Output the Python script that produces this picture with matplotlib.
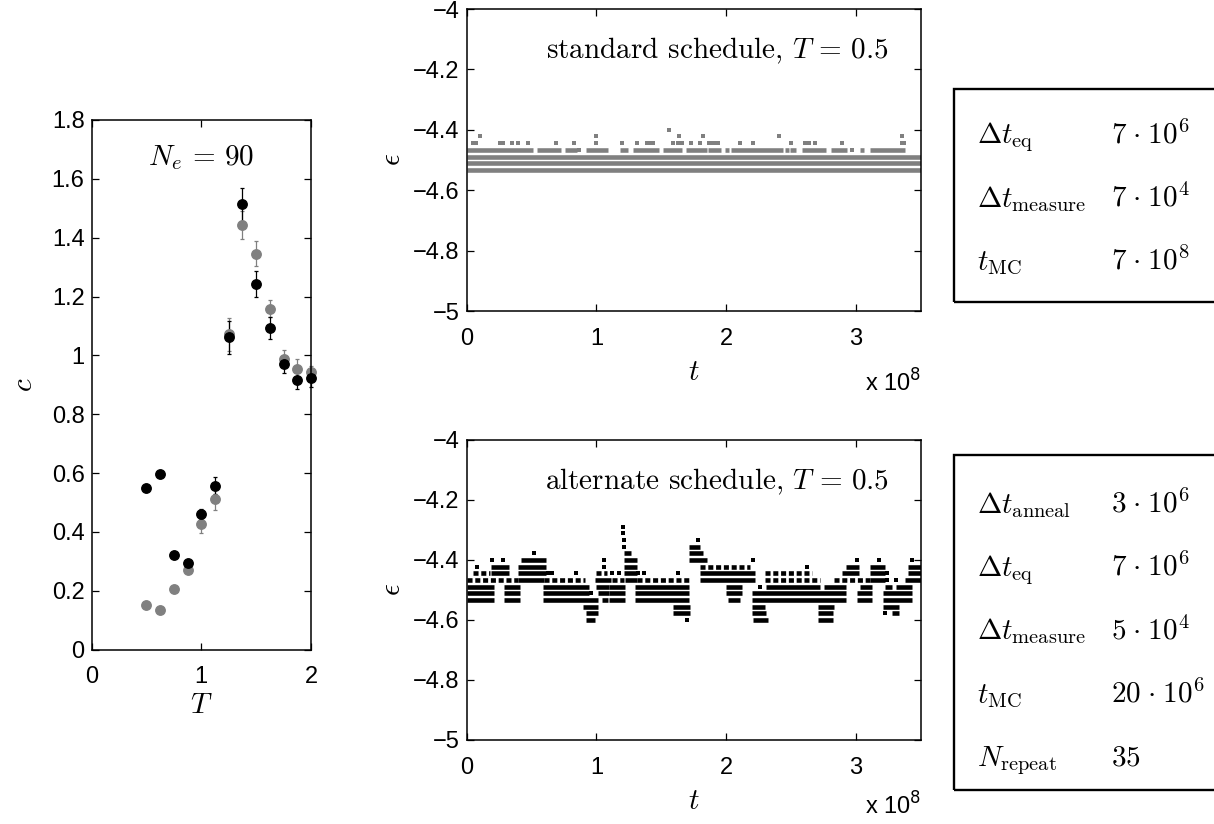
import matplotlib
matplotlib.use('Agg')
import matplotlib.pyplot as plt
from matplotlib.patches import Rectangle

plt.rcParams['font.family'] = ['Liberation Sans', 'DejaVu Sans']
plt.rcParams['mathtext.fontset'] = 'cm'
plt.rcParams['xtick.direction'] = 'in'
plt.rcParams['ytick.direction'] = 'in'
plt.rcParams['xtick.top'] = True
plt.rcParams['ytick.right'] = True
plt.rcParams['axes.linewidth'] = 1.1

W, H = 1214, 824
TICK_FS = 17
TEX_FS = 21

# ---- left panel: c(T), two runs ----
T_vals = [0.5, 0.625, 0.75, 0.875, 1.0, 1.125, 1.25, 1.375, 1.5, 1.625, 1.75, 1.875, 2.0]
c_black = [0.549, 0.596, 0.322, 0.293, 0.460, 0.557, 1.061, 1.513, 1.242, 1.094, 0.969, 0.917, 0.923]
c_black_err = [0.005, 0.005, 0.008, 0.008, 0.018, 0.030, 0.055, 0.056, 0.044, 0.038, 0.030, 0.030, 0.030]
c_gray = [0.150, 0.135, 0.206, 0.270, 0.426, 0.510, 1.071, 1.442, 1.346, 1.159, 0.989, 0.953, 0.943]
c_gray_err = [0.005, 0.005, 0.008, 0.010, 0.030, 0.035, 0.057, 0.047, 0.044, 0.030, 0.030, 0.033, 0.020]

# ---- energy traces, t in units of 1e8: (eps, t_start, t_end) ----
std_solid = [
    (-4.489, 0.00, 3.50), (-4.511, 0.00, 3.50), (-4.533, 0.00, 3.50),
    (-4.467, 0.00, 0.51), (-4.467, 0.54, 0.73), (-4.467, 0.76, 0.85),
    (-4.467, 0.92, 1.09), (-4.467, 1.18, 1.24), (-4.467, 1.28, 1.48),
    (-4.467, 1.51, 1.66), (-4.467, 1.69, 1.85), (-4.467, 1.86, 1.96),
    (-4.467, 1.99, 2.02), (-4.467, 2.04, 2.44), (-4.467, 2.45, 2.48),
    (-4.467, 2.49, 2.54), (-4.467, 2.58, 2.77), (-4.467, 2.81, 2.93),
    (-4.467, 3.03, 3.06), (-4.467, 3.11, 3.38),
]
std_dots_t = [0.87, 2.97,
              0.05, 0.075, 0.255, 0.28, 0.35, 0.40, 0.47, 0.69, 0.83, 1.00, 1.20,
              1.31, 1.39, 1.41, 1.44, 1.59, 1.63, 1.66, 1.73, 1.80, 1.87, 1.89,
              1.91, 1.94, 2.11, 2.21, 2.50, 2.61, 2.64, 2.68, 2.89, 3.35, 3.37,
              0.105, 1.00, 1.636, 1.82, 2.41, 3.35,
              1.558]
std_dots_e = [-4.467, -4.467] + [-4.444] * 33 + [-4.422] * 6 + [-4.400]

alt_solid = [
    (-4.489, 0.00, 0.21), (-4.511, 0.00, 0.21), (-4.533, 0.00, 0.21),
    (-4.422, 0.19, 0.33), (-4.444, 0.19, 0.33),
    (-4.489, 0.29, 0.41), (-4.511, 0.29, 0.41), (-4.533, 0.29, 0.41),
    (-4.400, 0.42, 0.61), (-4.422, 0.40, 0.61), (-4.444, 0.40, 0.61), (-4.467, 0.40, 0.60),
    (-4.489, 0.59, 0.94), (-4.511, 0.59, 0.94), (-4.533, 0.59, 1.01),
    (-4.556, 0.90, 1.01), (-4.578, 0.92, 1.01), (-4.600, 0.92, 0.99),
    (-4.467, 0.99, 1.115), (-4.489, 1.00, 1.10), (-4.511, 1.01, 1.10), (-4.533, 1.04, 1.09),
    (-4.489, 1.10, 1.22), (-4.511, 1.10, 1.22), (-4.533, 1.10, 1.22),
    (-4.378, 1.21, 1.27), (-4.400, 1.21, 1.31), (-4.422, 1.21, 1.31),
    (-4.444, 1.21, 1.31), (-4.467, 1.22, 1.31),
    (-4.489, 1.30, 1.71), (-4.511, 1.30, 1.71), (-4.533, 1.30, 1.71),
    (-4.556, 1.59, 1.72), (-4.578, 1.59, 1.72),
    (-4.356, 1.71, 1.80), (-4.378, 1.71, 1.82), (-4.400, 1.71, 1.85),
    (-4.444, 1.80, 2.22), (-4.467, 1.80, 2.22),
    (-4.489, 2.00, 2.12), (-4.511, 2.00, 2.12), (-4.533, 2.01, 2.11),
    (-4.511, 2.20, 2.92), (-4.533, 2.20, 2.92),
    (-4.556, 2.20, 2.30), (-4.578, 2.20, 2.31), (-4.600, 2.21, 2.32),
    (-4.489, 2.31, 2.72), (-4.489, 2.75, 2.92), (-4.489, 3.03, 3.12),
    (-4.489, 3.22, 3.28), (-4.489, 3.31, 3.43),
    (-4.511, 3.01, 3.12), (-4.511, 3.21, 3.43),
    (-4.533, 3.01, 3.12), (-4.533, 3.21, 3.43),
    (-4.556, 2.71, 2.83), (-4.556, 3.21, 3.33),
    (-4.578, 2.71, 2.82), (-4.578, 3.28, 3.33), (-4.600, 2.71, 2.82),
    (-4.467, 3.11, 3.22), (-4.467, 3.38, 3.50),
    (-4.444, 2.89, 3.02), (-4.444, 3.11, 3.22), (-4.444, 3.40, 3.50),
    (-4.422, 2.92, 3.02), (-4.422, 3.11, 3.22), (-4.422, 3.40, 3.50),
]
alt_dotted = [
    (-4.467, 0.00, 0.40), (-4.444, 0.05, 0.18), (-4.467, 0.60, 0.91),
    (-4.444, 0.995, 1.08), (-4.467, 1.12, 1.21), (-4.467, 1.31, 1.72),
    (-4.422, 1.80, 2.18), (-4.467, 2.30, 2.72), (-4.444, 2.30, 2.66),
    (-4.467, 2.83, 3.11),
]
alt_dots_t = [0.08, 0.20, 0.28, 0.52, 0.63, 0.66, 0.84, 0.96, 1.06, 1.06, 1.12, 1.175,
              1.205, 1.205, 1.21, 1.21, 1.32, 1.37, 1.63, 1.695, 1.78, 2.21, 2.26,
              2.62, 3.01, 3.18, 3.24, 3.24, 3.31, 3.22, 3.43]
alt_dots_e = [-4.422, -4.400, -4.400, -4.378, -4.444, -4.444, -4.444, -4.511, -4.400, -4.422,
              -4.444, -4.444, -4.289, -4.311, -4.333, -4.356, -4.444, -4.444, -4.444, -4.600,
              -4.333, -4.400, -4.489, -4.422, -4.400, -4.400, -4.467, -4.444, -4.467, -4.578,
              -4.400]

# ---- parameter tables ----
std_names = [r'$\Delta t_{\mathrm{eq}}$', r'$\Delta t_{\mathrm{measure}}$', r'$t_{\mathrm{MC}}$']
std_values = [r'$7\hspace{0.08}\cdot\hspace{0.08}10^6$', r'$7\hspace{0.08}\cdot\hspace{0.08}10^4$',
              r'$7\hspace{0.08}\cdot\hspace{0.08}10^8$']
alt_names = [r'$\Delta t_{\mathrm{anneal}}$', r'$\Delta t_{\mathrm{eq}}$', r'$\Delta t_{\mathrm{measure}}$',
             r'$t_{\mathrm{MC}}$', r'$N_{\mathrm{repeat}}$']
alt_values = [r'$3\hspace{0.08}\cdot\hspace{0.08}10^6$', r'$7\hspace{0.08}\cdot\hspace{0.08}10^6$',
              r'$5\hspace{0.08}\cdot\hspace{0.08}10^4$', r'$20\hspace{0.08}\cdot\hspace{0.08}10^6$', r'$35$']

eps_ticks = [-5, -4.8, -4.6, -4.4, -4.2, -4]
eps_ticklabels = ['\u22125', '\u22124.8', '\u22124.6', '\u22124.4', '\u22124.2', '\u22124']
c_ticks = [0, 0.2, 0.4, 0.6, 0.8, 1.0, 1.2, 1.4, 1.6, 1.8]
c_ticklabels = ['0', '0.2', '0.4', '0.6', '0.8', '1', '1.2', '1.4', '1.6', '1.8']

GRAY = '#808080'
LW = 3.3
MS = 3.1


def px_axes(fig, x0, y0, x1, y1):
    return fig.add_axes([x0 / W, 1 - y1 / H, (x1 - x0) / W, (y1 - y0) / H])


def style_ticks(ax):
    ax.tick_params(which='both', labelsize=TICK_FS, length=5, width=0.9)
    ax.tick_params(axis='x', pad=12)
    ax.tick_params(axis='y', pad=5)


def draw_trace(ax, solid, dotted, dots_t, dots_e, color):
    e, t0, t1 = zip(*solid)
    ax.hlines(e, t0, t1, colors=color, linewidth=LW)
    if dotted:
        e, t0, t1 = zip(*dotted)
        ax.hlines(e, t0, t1, colors=color, linewidth=LW, linestyles=[(0, (1.1, 0.6))])
    ax.plot(dots_t, dots_e, 's', color=color, ms=MS, mew=0)


def energy_axes(ax, title, color, solid, dotted, dots_t, dots_e, exp_y):
    draw_trace(ax, solid, dotted, dots_t, dots_e, color)
    ax.set_xlim(0, 3.5)
    ax.set_ylim(-5, -4)
    ax.set_xticks([0, 1, 2, 3])
    ax.set_xticklabels(['0', '1', '2', '3'])
    ax.set_yticks(eps_ticks)
    ax.set_yticklabels(eps_ticklabels)
    style_ticks(ax)
    ax.set_xlabel(r'$t$', fontsize=TEX_FS, labelpad=6)
    ax.set_ylabel(r'$\epsilon$', fontsize=TEX_FS, labelpad=5)
    ax.text(0.93, 0.86, title, transform=ax.transAxes, ha='right', va='center',
            fontsize=TEX_FS, family='cmr10')
    ax.text(1.0, exp_y, r'x 10$^{8}$', transform=ax.transAxes, ha='right', va='center',
            fontsize=TICK_FS, math_fontfamily='dejavusans')


def table(fig, top, bottom, names, values, y_first):
    fig.add_artist(Rectangle((954 / W, 1 - bottom / H), (1220 - 954) / W, (bottom - top) / H,
                             transform=fig.transFigure, fill=False, lw=1.7, ec='black',
                             clip_on=False))
    for i, (n, v) in enumerate(zip(names, values)):
        y = 1 - (y_first + 63.3 * i) / H
        fig.text(977 / W, y, n, ha='left', va='baseline', fontsize=TEX_FS)
        fig.text(1111 / W, y, v, ha='left', va='baseline', fontsize=TEX_FS)


fig = plt.figure(figsize=(W / 100, H / 100), dpi=100)

# left panel
ax_c = px_axes(fig, 91.5, 120, 311, 649.5)
for vals, errs, col in [(c_gray, c_gray_err, GRAY), (c_black, c_black_err, 'black')]:
    eb = ax_c.errorbar(T_vals, vals, yerr=errs, fmt='o', color=col, ms=6.8,
                       elinewidth=0.9, capsize=1.5, capthick=0.9)
    for art in eb.get_children():
        art.set_clip_on(False)
ax_c.set_xlim(0, 2)
ax_c.set_ylim(0, 1.8)
ax_c.set_xticks([0, 1, 2])
ax_c.set_xticklabels(['0', '1', '2'])
ax_c.set_yticks(c_ticks)
ax_c.set_yticklabels(c_ticklabels)
style_ticks(ax_c)
ax_c.set_xlabel(r'$T$', fontsize=TEX_FS, labelpad=2)
ax_c.set_ylabel(r'$c$', fontsize=TEX_FS, labelpad=10)
ax_c.text(0.5, 0.93, r'$N_e\,=\,90$', transform=ax_c.transAxes, ha='center', va='center',
          fontsize=TEX_FS)

# right panels
ax_s = px_axes(fig, 466.5, 9, 921, 311)
energy_axes(ax_s, r'standard schedule, $T\,=\,0.5$', GRAY,
            std_solid, None, std_dots_t, std_dots_e, -0.24)
ax_a = px_axes(fig, 466.5, 440, 921, 740)
energy_axes(ax_a, r'alternate schedule, $T\,=\,0.5$', 'black',
            alt_solid, alt_dotted, alt_dots_t, alt_dots_e, -0.22)

table(fig, 89, 301.7, std_names, std_values, 143.3)
table(fig, 455, 790, alt_names, alt_values, 512.7)

fig.savefig('out.png', dpi=100)
